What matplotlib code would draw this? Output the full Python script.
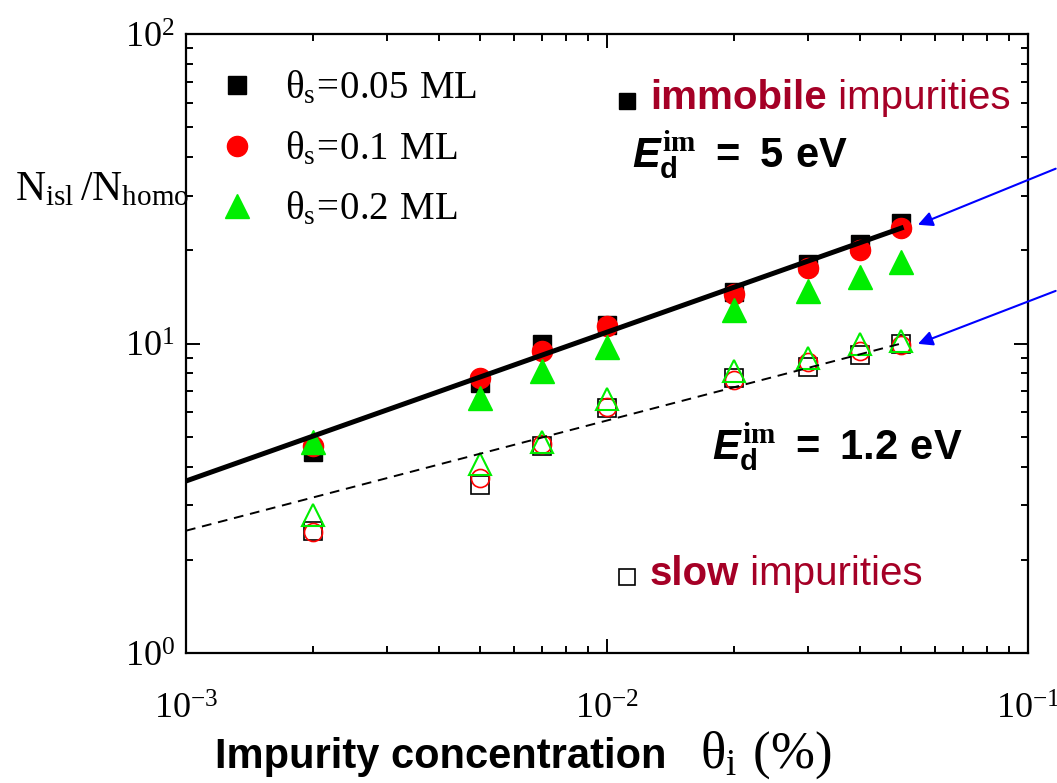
import numpy as np
import matplotlib
matplotlib.use("Agg")
import matplotlib.pyplot as plt
from matplotlib.ticker import NullFormatter

# Impurity concentration (fraction)
theta_i = [0.002, 0.005, 0.007, 0.01, 0.02, 0.03, 0.04, 0.05]

# Immobile impurities (E_d = 5 eV), one list per coverage
imm_005 = [4.45, 7.45, 9.95, 11.5, 14.7, 18.1, 20.9, 24.5]
imm_01 = [4.65, 7.75, 9.45, 11.4, 14.5, 17.5, 20.0, 23.6]
imm_02 = [4.8, 6.65, 8.15, 9.75, 12.8, 14.8, 16.4, 18.3]

# Slow impurities (E_d = 1.2 eV)
slow_005 = [2.48, 3.48, 4.68, 6.2, 7.75, 8.4, 9.18, 9.95]
slow_01 = [2.46, 3.68, 4.73, 6.23, 7.62, 8.7, 9.46, 9.9]
slow_02 = [2.8, 4.08, 4.8, 6.62, 8.15, 8.98, 9.97, 10.2]

# Power-law fits N = A * (theta_i / 0.05)**b
fit_immobile = (23.6, 0.481)
fit_slow = (10.0, 0.356)

legend_labels = [r"$\mathrm{\theta_s\!=\!0.05\ ML}$",
                 r"$\mathrm{\theta_s\!=\!0.1\ ML}$",
                 r"$\mathrm{\theta_s\!=\!0.2\ ML}$"]
xtick_vals = [1e-3, 1e-2, 1e-1]
xtick_labels = [r"$\mathrm{10^{-3}}$", r"$\mathrm{10^{-2}}$", r"$\mathrm{10^{-1}}$"]
ytick_vals = [1, 10, 100]
ytick_labels = [r"$\mathrm{10^{0}}$", r"$\mathrm{10^{1}}$", r"$\mathrm{10^{2}}$"]

DARK_RED = "#A50026"
GREEN = "#00EE00"
SANS = "Liberation Sans"

plt.rcParams["mathtext.fontset"] = "custom"
plt.rcParams["mathtext.rm"] = "Liberation Serif"
plt.rcParams["mathtext.bf"] = "Liberation Serif:bold"
plt.rcParams["mathtext.it"] = "Liberation Sans:bold:italic"
plt.rcParams["mathtext.sf"] = "Liberation Sans:bold"
plt.rcParams["mathtext.tt"] = "Liberation Sans:bold"

fig = plt.figure(figsize=(10.57, 7.83), dpi=100)
ax = fig.add_axes([186 / 1057, 130 / 783, 842 / 1057, 619 / 783])
ax.set_xscale("log")
ax.set_yscale("log")
ax.set_xlim(1e-3, 1e-1)
ax.set_ylim(1, 100)

# filled symbols: immobile impurities
ax.plot(theta_i, imm_005, "s", color="black", ms=13, zorder=3)
ax.plot(theta_i, imm_01, "o", color="red", ms=14.5, zorder=4)
ax.plot(theta_i, imm_02, "^", color=GREEN, mec=GREEN, ms=17, zorder=5)

# open symbols: slow impurities
ax.plot(theta_i, slow_005, "s", mfc="none", mec="black", mew=1.2, ms=12.5, zorder=3)
ax.plot(theta_i, slow_01, "o", mfc="none", mec="red", mew=1.2, ms=13, zorder=4)
ax.plot(theta_i, slow_02, "^", mfc="none", mec=GREEN, mew=1.5, ms=16, zorder=5)

# fit lines
xf = np.logspace(-3, np.log10(0.05), 60)
ax.plot(xf, fit_immobile[0] * (xf / 0.05) ** fit_immobile[1], color="black", lw=3.6, zorder=6)
ax.plot(xf, fit_slow[0] * (xf / 0.05) ** fit_slow[1], color="black", lw=1.4,
        dashes=(5, 3.5), zorder=6)

# axes styling
for sp in ax.spines.values():
    sp.set_linewidth(1.6)
ax.tick_params(which="both", direction="in", top=True, right=True, width=1.4)
ax.tick_params(which="major", length=10)
ax.tick_params(which="minor", length=5)
ax.set_xticks(xtick_vals)
ax.set_xticklabels(xtick_labels, fontsize=26)
ax.set_yticks(ytick_vals)
ax.set_yticklabels(ytick_labels, fontsize=26)
ax.xaxis.set_minor_formatter(NullFormatter())
ax.yaxis.set_minor_formatter(NullFormatter())
ax.tick_params(axis="x", which="major", pad=28)
ax.tick_params(axis="y", which="major", pad=8)

# legend
handles = ax.get_lines()[:3]
leg = ax.legend(handles, legend_labels, loc="upper left", bbox_to_anchor=(0.037, 0.944),
                frameon=False, numpoints=1, handlelength=1.0, handletextpad=0.75,
                labelspacing=0.58, borderaxespad=0, borderpad=0, fontsize=28)

# annotations
ax.plot(0.524, 0.892, "s", color="black", ms=11, transform=ax.transAxes, clip_on=False)
t1 = ax.text(0.551, 0.879, "immobile", transform=ax.transAxes, color=DARK_RED,
             fontsize=29, fontweight="bold", family=SANS, va="baseline")
ax.annotate(" impurities", xy=(1, 0), xycoords=t1, va="bottom", ha="left",
            color=DARK_RED, fontsize=29, family=SANS)

ax.plot(0.524, 0.123, "s", mfc="white", mec="black", mew=1.2, ms=11,
        transform=ax.transAxes, clip_on=False)
t2 = ax.text(0.551, 0.110, "slow", transform=ax.transAxes, color=DARK_RED,
             fontsize=29, fontweight="bold", family=SANS, va="baseline")
ax.annotate(" impurities", xy=(1, 0), xycoords=t2, va="bottom", ha="left",
            color=DARK_RED, fontsize=29, family=SANS)

ax.text(0.530, 0.784, r"$\mathit{E}_{\mathtt{d}}^{\mathbf{im}}\mathtt{\ =\ 5\ eV}$",
        transform=ax.transAxes, fontsize=30, va="baseline")
ax.text(0.625, 0.312, r"$\mathit{E}_{\mathtt{d}}^{\mathbf{im}}\mathtt{\ =\ 1.2\ eV}$",
        transform=ax.transAxes, fontsize=30, va="baseline")

# blue arrows pointing to the fits
arrow = dict(arrowstyle="-|>", color="blue", lw=1.5, mutation_scale=22)
ax.annotate("", xy=(0.054, 24.0), xytext=(0.118, 37.0), arrowprops=arrow,
            annotation_clip=False)
ax.annotate("", xy=(0.054, 9.9), xytext=(0.118, 14.9), arrowprops=arrow,
            annotation_clip=False)

# axis titles
fig.text(15 / 1057, (783 - 200) / 783, r"$\mathrm{N_{isl}\,/N_{homo}}$",
         fontsize=30, va="baseline", ha="left")
fig.text(215 / 1057, 15 / 783, "Impurity concentration", family=SANS,
         fontweight="bold", fontsize=30, va="baseline", ha="left")
fig.text(700 / 1057, 15 / 783, r"$\mathrm{\theta_i\ (\%)}$",
         fontsize=38, va="baseline", ha="left")

fig.savefig("out.png", dpi=100)
